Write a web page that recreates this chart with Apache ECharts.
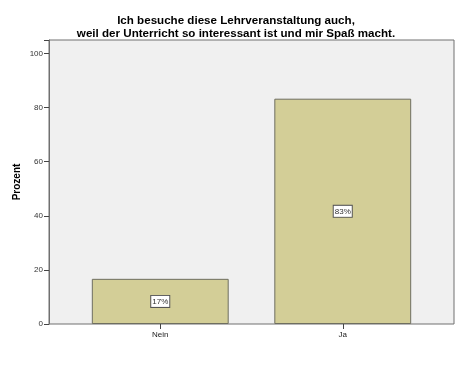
<!DOCTYPE html>
<html><head><meta charset="utf-8">
<script src="https://cdn.jsdelivr.net/npm/echarts@6/dist/echarts.min.js"></script>
<style>html,body{margin:0;padding:0;background:#fff}#c{width:460px;height:369px}</style>
</head><body><div id="c"></div>
<script>
const categories = ['Nein', 'Ja'];
const values = [16.7, 83.3];
const labels = ['17%', '83%'];
const yTicks = [0, 20, 40, 60, 80, 100];

const chart = echarts.init(document.getElementById('c'), null, {renderer: 'canvas'});
const FONT = 'Liberation Sans, Arial, sans-serif';
chart.setOption({
  animation: false,
  backgroundColor: '#ffffff',
  title: {
    text: 'Ich besuche diese Lehrveranstaltung auch,\nweil der Unterricht so interessant ist und mir Spaß macht.',
    left: 231, textAlign: 'center', top: 10,
    textStyle: {fontFamily: FONT, fontSize: 11.6, fontWeight: 'bold', color: '#000', lineHeight: 12.5}
  },
  grid: [
    {left: 49, right: 6, top: 40, bottom: 45, outerBoundsMode: 'none', containLabel: false,
     show: true, backgroundColor: '#f0f0f0', borderColor: '#707070', borderWidth: 1},
    {left: 69, right: 26, top: 40, bottom: 45, outerBoundsMode: 'none', containLabel: false}
  ],
  xAxis: [
    {gridIndex: 0, type: 'value', min: 0, max: 1, show: false},
    {gridIndex: 1, type: 'category', data: categories,
     axisLine: {show: false},
     axisTick: {show: true, alignWithLabel: true, length: 5, lineStyle: {color: '#444'}},
     axisLabel: {fontFamily: FONT, fontSize: 8, color: '#222', margin: 7}}
  ],
  yAxis: [
    {gridIndex: 0, type: 'value', min: 0, max: 105, interval: 20,
     name: 'Prozent', nameLocation: 'middle', nameGap: 27, nameRotate: 90, nameMoveOverlap: false,
     nameTextStyle: {fontFamily: FONT, fontSize: 10, fontWeight: 'bold', color: '#000'},
     axisLine: {show: true, lineStyle: {color: '#707070'}},
     axisTick: {show: true, length: 5, lineStyle: {color: '#444'}},
     axisLabel: {fontFamily: FONT, fontSize: 8, color: '#333', margin: 6,
       formatter: v => yTicks.includes(v) ? String(v) : ''},
     splitLine: {show: false}},
    {gridIndex: 1, type: 'value', min: 0, max: 105, show: false, splitLine: {show: false}}
  ],
  series: [{
    type: 'bar', xAxisIndex: 1, yAxisIndex: 1,
    data: values, barCategoryGap: '25%',
    itemStyle: {color: '#d3ce97', borderColor: '#6e6e60', borderWidth: 1},
    label: {show: true, position: 'inside',
      formatter: p => labels[p.dataIndex],
      fontFamily: FONT, fontSize: 8, color: '#333',
      backgroundColor: '#ffffff', borderColor: '#555', borderWidth: 1, padding: [2, 1, 1, 1]}
  }]
});
</script></body></html>
